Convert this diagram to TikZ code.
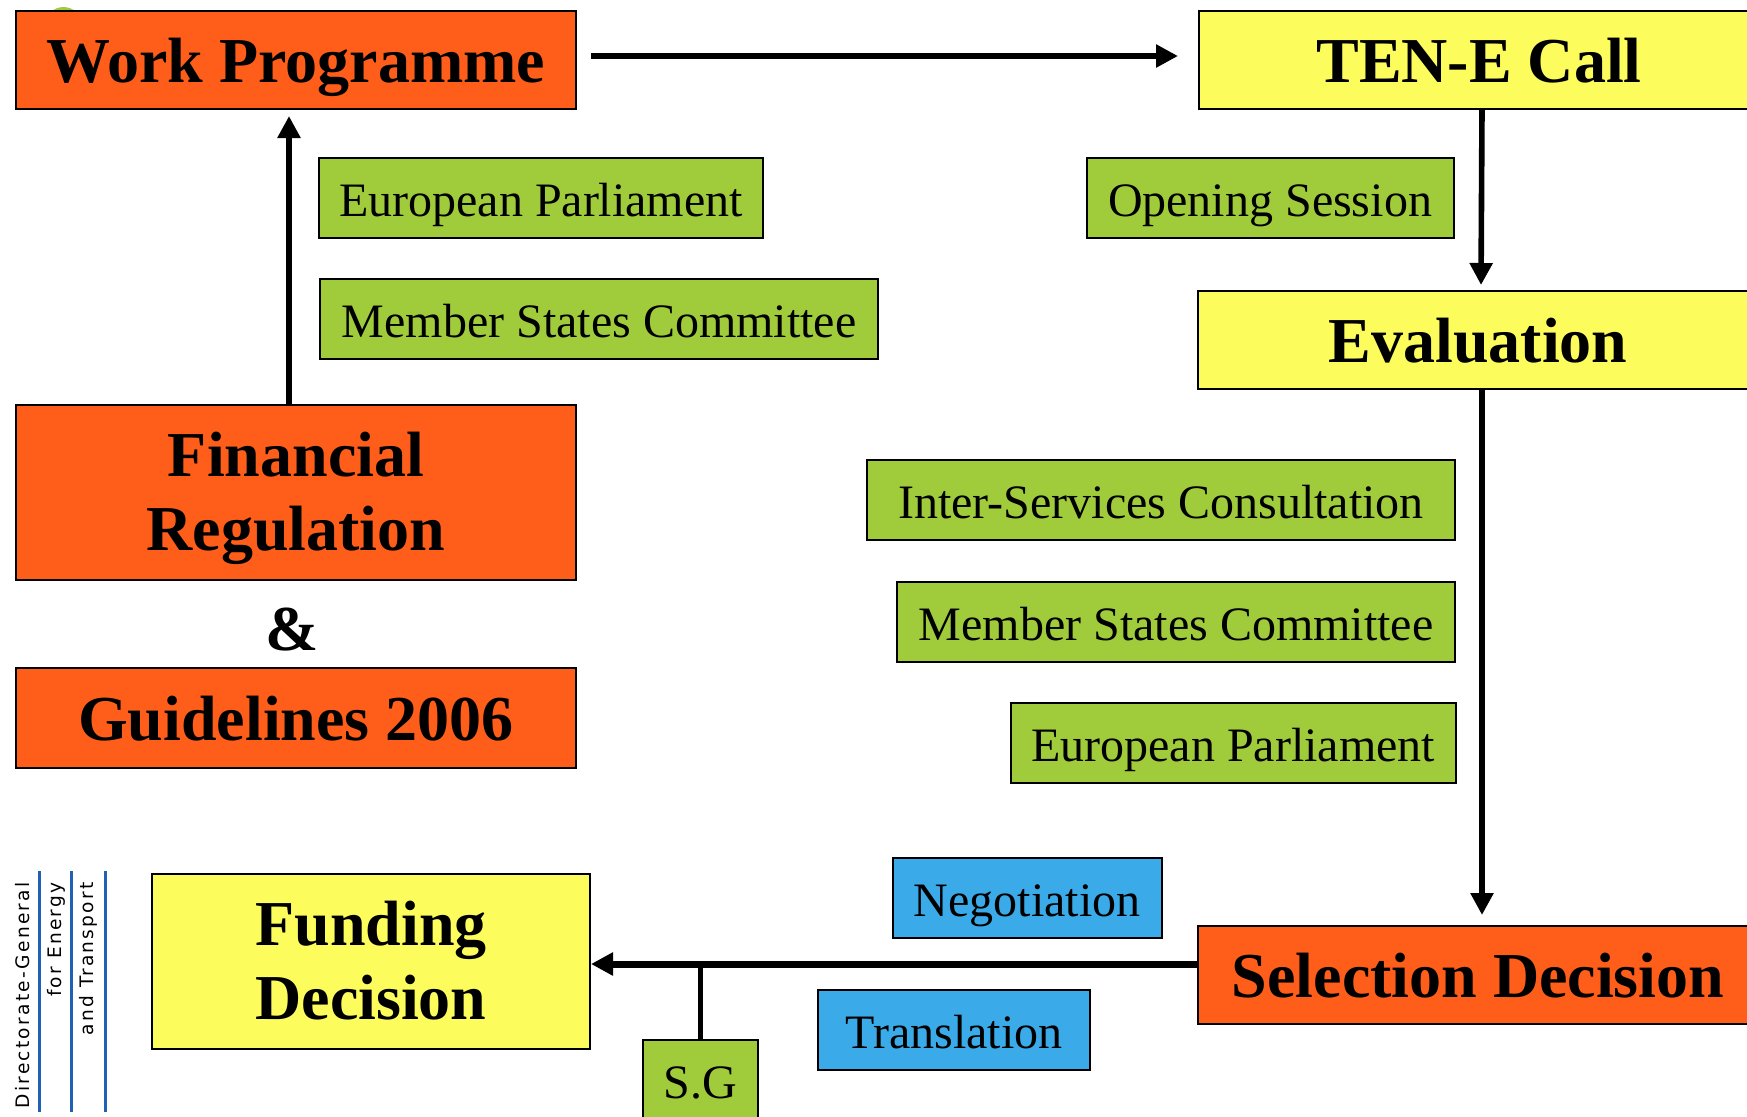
\documentclass[tikz,border=0pt]{standalone}
\usepackage{fontspec}
\setmainfont{Liberation Serif}
\newfontfamily\logofont[LetterSpace=12]{DejaVu Sans}
\usetikzlibrary{arrows.meta}

\definecolor{boxorange}{HTML}{FF5E1A}
\definecolor{boxyellow}{HTML}{FCFC5C}
\definecolor{boxgreen}{HTML}{A0CC3C}
\definecolor{boxblue}{HTML}{3AABE8}
\definecolor{logoblue}{HTML}{1F62B4}

\begin{document}
\begin{tikzpicture}[x=0.5pt,y=-0.5pt,
	box/.style={draw=black,line width=1pt,inner sep=0pt},
	title/.style={box,font=\bfseries\fontsize{32}{37}\selectfont,align=center,minimum width=280pt,minimum height=49pt},
	oneline/.style={text height=24pt,text depth=1.4pt},
	tag/.style={box,font=\fontsize{24}{28}\selectfont,minimum height=40pt,text height=20pt,text depth=1.5pt},
	arr/.style={line width=2.8pt,-{Triangle[length=11pt,width=11pt]}},
	logoline/.style={draw=logoblue,line width=1.5pt},
	logotext/.style={rotate=90,anchor=east,inner sep=0pt,font=\logofont\fontsize{9.3}{10}\selectfont}]

	\useasboundingbox (0,0) rectangle (1747,1116);
	\clip (0,0) rectangle (1747,1116);

	\fill[boxgreen] (63.5,25.5) circle (9.25pt);

	\node[title,oneline,fill=boxorange] (wp) at (296,60) {Work Programme};
	\node[title,oneline,fill=boxyellow] (ten) at (1479,60) {TEN-E Call};
	\node[title,oneline,fill=boxyellow] (eval) at (1478,340) {Evaluation};
	\node[title,oneline,fill=boxorange] (sel) at (1478,975) {Selection Decision};
	\node[title,fill=boxorange,minimum height=87.5pt] (fin) at (296,492) {\rule{0pt}{29pt}Financial\\Regulation};
	\node[font=\bfseries\fontsize{32}{37}\selectfont,inner sep=0pt] (amp) at (292,630) {\&};
	\node[title,oneline,fill=boxorange,minimum height=50pt] (guide) at (296,718) {Guidelines 2006};
	\node[title,fill=boxyellow,minimum width=219pt,minimum height=87.5pt] (fund) at (371,961) {Funding\\Decision};

	\node[tag,fill=boxgreen,minimum width=222pt] (ep) at (541,198) {European Parliament};
	\node[tag,fill=boxgreen,minimum width=279pt] (msc) at (599,319) {Member States Committee};
	\node[tag,fill=boxgreen,minimum width=183.5pt] (open) at (1270,198) {Opening Session};
	\node[tag,fill=boxgreen,minimum width=294pt] (isc) at (1161,500) {Inter-Services Consultation};
	\node[tag,fill=boxgreen,minimum width=279pt] (msctwo) at (1176,622) {Member States Committee};
	\node[tag,fill=boxgreen,minimum width=222.5pt] (eptwo) at (1233,743) {European Parliament};
	\node[tag,fill=boxblue,minimum width=134.5pt] (nego) at (1027,898) {Negotiation};
	\node[tag,fill=boxblue,minimum width=136pt] (trans) at (954,1030) {Translation};
	\node[tag,fill=boxgreen,minimum width=57.5pt] (sg) at (700,1080) {S.G};

	\draw[arr,shorten <=7pt,shorten >=10pt] ([yshift=2pt]wp.east) -- ([yshift=2pt]ten.west);
	\draw[arr,shorten >=2.5pt] ([xshift=1.5pt]ten.south) -- ([xshift=1.5pt]eval.north);
	\draw[arr,shorten >=3pt] ([xshift=-3.5pt]fin.north) -- ([xshift=-3.5pt]wp.south);
	\draw[arr,shorten >=5pt] ([xshift=2pt]eval.south) -- ([xshift=2pt]sel.north);
	\draw[arr,line width=3.5pt] ([yshift=-1.5pt]fund.east -| sel.west) -- ([yshift=-1.5pt]fund.east);
	\draw[line width=2.5pt] (sg.north) -- ([yshift=-1.5pt]sg.north |- fund.east);

	\draw[logoline] (39,871) -- (39,1112);
	\draw[logoline] (71,871) -- (71,1112);
	\draw[logoline] (105,871) -- (105,1112);
	\node[logotext] (dg) at (23,882) {Directorate-General};
	\node[logotext] (fe) at (56,882) {for Energy};
	\node[logotext] (at) at (88,882) {and Transport};

\end{tikzpicture}
\end{document}
